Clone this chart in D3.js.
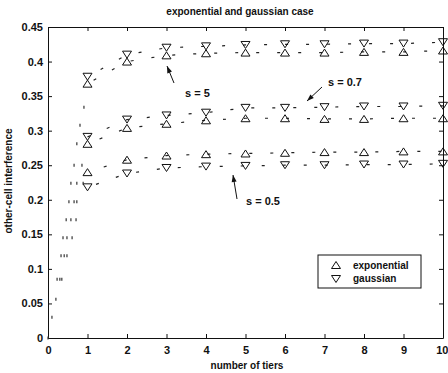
<!DOCTYPE html>
<html>
<head>
<meta charset="utf-8">
<script src="https://cdn.jsdelivr.net/npm/d3@7/dist/d3.min.js"></script>
<style>
  body { margin: 0; background: #fff; }
  text { font-family: "Liberation Sans", Arial, Helvetica, sans-serif; font-weight: bold; fill: #111; }
</style>
</head>
<body>
<script>
// Interference level versus number of tiers, for three shadowing spreads s
const tiers = [1, 2, 3, 4, 5, 6, 7, 8, 9, 10];

const expS05   = [0.240, 0.258, 0.264, 0.266, 0.267, 0.268, 0.269, 0.269, 0.270, 0.270];
const gaussS05 = [0.218, 0.238, 0.246, 0.248, 0.249, 0.250, 0.250, 0.251, 0.251, 0.252];
const expS07   = [0.281, 0.304, 0.310, 0.315, 0.318, 0.318, 0.317, 0.317, 0.318, 0.318];
const gaussS07 = [0.291, 0.316, 0.322, 0.326, 0.333, 0.333, 0.334, 0.335, 0.335, 0.336];
const expS5    = [0.368, 0.400, 0.409, 0.412, 0.413, 0.413, 0.413, 0.414, 0.414, 0.416];
const gaussS5  = [0.378, 0.410, 0.420, 0.422, 0.424, 0.425, 0.425, 0.426, 0.426, 0.428];

// fine-grained points below the first tier
const rampTiersS5   = [0, 0.10, 0.20, 0.23, 0.33, 0.38, 0.46, 0.53, 0.58, 0.66, 0.73, 0.81, 0.91];
const rampValuesS5  = [0, 0.030, 0.056, 0.085, 0.119, 0.145, 0.171, 0.197, 0.224, 0.250, 0.281, 0.308, 0.334];
const rampTiersS07  = [0.30, 0.41, 0.48, 0.58, 0.66, 0.73, 0.86];
const rampValuesS07 = [0.085, 0.119, 0.145, 0.171, 0.197, 0.224, 0.250];
const rampTiersS05  = [0.35, 0.48, 0.61, 0.71, 0.73, 0.89];
const rampValuesS05 = [0.085, 0.119, 0.145, 0.171, 0.197, 0.224];

const xTicks = [0, 1, 2, 3, 4, 5, 6, 7, 8, 9, 10];
const yTicks = [0, 0.05, 0.1, 0.15, 0.2, 0.25, 0.3, 0.35, 0.4, 0.45];

const titleText = "exponential and gaussian case";
const xTitle = "number of tiers";
const yTitle = "other-cell interference";
const legendLabels = ["exponential", "gaussian"];

const W = 448, H = 373;
const plotLeft = 48, plotRight = 443, plotTop = 27, plotBottom = 338;

const svg = d3.select("body").append("svg").attr("width", W).attr("height", H);

const x = d3.scaleLinear().domain([0, 10]).range([plotLeft, plotRight]);
const y = d3.scaleLinear().domain([0, 0.45]).range([plotBottom, plotTop]);

// axes with inward ticks on all four sides
const fmt = d3.format("");
svg.append("g").attr("transform", `translate(0,${plotBottom})`)
  .call(d3.axisBottom(x).tickValues(xTicks).tickFormat(d3.format("d")).tickSizeInner(-4).tickSizeOuter(0).tickPadding(8))
  .call(g => g.selectAll("text").attr("font-size", 11))
  .call(g => g.selectAll(".tick text").filter(d => d === 10).attr("text-anchor", "end").attr("dx", 5));
svg.append("g").attr("transform", `translate(${plotLeft},0)`)
  .call(d3.axisLeft(y).tickValues(yTicks).tickFormat(fmt).tickSizeInner(-4).tickSizeOuter(0).tickPadding(5))
  .call(g => g.selectAll("text").attr("font-size", 11));
svg.append("g").attr("transform", `translate(0,${plotTop})`)
  .call(d3.axisTop(x).tickValues(xTicks).tickFormat("").tickSizeInner(-4).tickSizeOuter(0));
svg.append("g").attr("transform", `translate(${plotRight},0)`)
  .call(d3.axisRight(y).tickValues(yTicks).tickFormat("").tickSizeInner(-4).tickSizeOuter(0));
svg.selectAll(".domain").attr("stroke", "#111");
svg.selectAll(".tick line").attr("stroke", "#111");
svg.selectAll(".tick text").attr("fill", "#111").attr("font-family", '"Liberation Sans", Arial, sans-serif').attr("font-weight", "bold");

// marker shapes
const up = (cx, cy) => `M${cx - 4.5},${cy + 3.5}L${cx},${cy - 3.5}L${cx + 4.5},${cy + 3.5}Z`;
const down = (cx, cy) => `M${cx - 4.5},${cy - 3.5}L${cx + 4.5},${cy - 3.5}L${cx},${cy + 3.5}Z`;

const series = [
  { vals: expS05, shape: up, off: 4 },
  { vals: gaussS05, shape: down, off: 12 },
  { vals: expS07, shape: up, off: 8 },
  { vals: gaussS07, shape: down, off: 0 },
  { vals: expS5, shape: up, off: 14 },
  { vals: gaussS5, shape: down, off: 6 }
];

const line = d3.line().x(d => x(d[0])).y(d => y(d[1]));
const plot = svg.append("g");

series.forEach(s => {
  const pts = tiers.map((t, i) => [t, s.vals[i]]);
  plot.append("path").attr("d", line(pts))
    .attr("fill", "none").attr("stroke", "#222").attr("stroke-width", 1.2)
    .attr("stroke-dasharray", "3,18").attr("stroke-dashoffset", s.off);
  plot.selectAll(null).data(pts).enter().append("path")
    .attr("d", d => s.shape(x(d[0]), y(d[1])))
    .attr("fill", "none").attr("stroke", "#111").attr("stroke-width", 1);
});

// small marks for fractional tiers
[[rampTiersS5, rampValuesS5], [rampTiersS07, rampValuesS07], [rampTiersS05, rampValuesS05]].forEach(([ts, vs]) => {
  plot.selectAll(null).data(ts.map((t, i) => [t, vs[i]])).enter().append("line")
    .attr("x1", d => x(d[0])).attr("x2", d => x(d[0]))
    .attr("y1", d => y(d[1]) - 1.5).attr("y2", d => y(d[1]) + 1.5)
    .attr("stroke", "#333").attr("stroke-width", 1.2);
});

// titles
svg.append("text").attr("x", 240).attr("y", 15).attr("text-anchor", "middle").attr("font-size", 10).text(titleText);
svg.append("text").attr("x", 247).attr("y", 369).attr("text-anchor", "middle").attr("font-size", 10).text(xTitle);
svg.append("text").attr("transform", "translate(12,181) rotate(-90)").attr("text-anchor", "middle").attr("font-size", 10).text(yTitle);

// annotations with arrows
const notes = [
  { label: "s = 5", tx: 185, ty: 97, from: [174, 83], to: [167, 66] },
  { label: "s = 0.7", tx: 328, ty: 86, from: [322, 87], to: [307, 101] },
  { label: "s = 0.5", tx: 246, ty: 205, from: [237, 199], to: [233, 175] }
];
notes.forEach(n => {
  svg.append("text").attr("x", n.tx).attr("y", n.ty).attr("font-size", 11).text(n.label);
  const [x1, y1] = n.from, [x2, y2] = n.to;
  svg.append("line").attr("x1", x1).attr("y1", y1).attr("x2", x2).attr("y2", y2)
    .attr("stroke", "#111").attr("stroke-width", 1);
  const a = Math.atan2(y2 - y1, x2 - x1);
  const L = 7, Wd = 2.5;
  const bx = x2 - L * Math.cos(a), by = y2 - L * Math.sin(a);
  const px = -Math.sin(a) * Wd, py = Math.cos(a) * Wd;
  svg.append("path").attr("d", `M${x2},${y2}L${bx + px},${by + py}L${bx - px},${by - py}Z`).attr("fill", "#111");
});

// legend
const lg = svg.append("g");
lg.append("rect").attr("x", 318).attr("y", 255).attr("width", 103).attr("height", 33)
  .attr("fill", "#fff").attr("stroke", "#111").attr("stroke-width", 1);
lg.append("path").attr("d", up(336, 265)).attr("fill", "none").attr("stroke", "#111");
lg.append("path").attr("d", down(336, 279)).attr("fill", "none").attr("stroke", "#111");
lg.append("text").attr("x", 353).attr("y", 269).attr("font-size", 10).text(legendLabels[0]);
lg.append("text").attr("x", 353).attr("y", 282).attr("font-size", 10).text(legendLabels[1]);
</script>
</body>
</html>
